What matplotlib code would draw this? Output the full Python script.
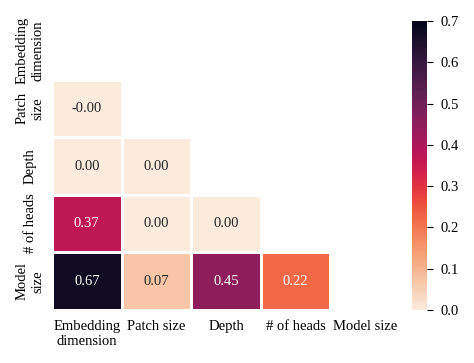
import numpy as np
import matplotlib
matplotlib.use('Agg')
import matplotlib.pyplot as plt
import seaborn as sns

plt.rcParams['font.family'] = ['Liberation Serif', 'DejaVu Serif']

row_labels = ['Embedding\ndimension', 'Patch\nsize', 'Depth', '# of heads', 'Model\nsize']
col_labels = ['Embedding\ndimension', 'Patch size', 'Depth', '# of heads', 'Model size']

# lower triangle values (upper part and diagonal are masked)
corr = np.array([
    [0.0,    0.0,  0.0,  0.0,  0.0],
    [-0.001, 0.0,  0.0,  0.0,  0.0],
    [0.0,    0.0,  0.0,  0.0,  0.0],
    [0.37,   0.0,  0.0,  0.0,  0.0],
    [0.67,   0.07, 0.45, 0.22, 0.0],
])
mask = np.triu(np.ones_like(corr, dtype=bool))

fig = plt.figure(figsize=(4.74, 3.63), dpi=100)
ax = fig.add_axes([52/474, 1 - 310/363, 348/474, 288/363])
cax = fig.add_axes([412/474, 1 - 310/363, 15/474, 289/363])

sns.heatmap(corr, mask=mask, cmap='rocket_r', vmin=0, vmax=0.7,
            annot=True, fmt='.2f', annot_kws={'size': 10.5},
            linewidths=1, linecolor='white',
            xticklabels=col_labels, yticklabels=row_labels,
            ax=ax, cbar_ax=cax)

ax.tick_params(length=0, labelsize=10.5, pad=7)
ax.set_yticklabels(row_labels, rotation=90, va='center', ha='center', ma='center')
ax.set_xticklabels(col_labels, rotation=0, ha='center', ma='center')
for t in ax.get_yticklabels():
    t.set_x(-0.035)

cax.tick_params(labelsize=10.5, length=4, width=0.8, pad=6)
cax.set_yticks([0.0, 0.1, 0.2, 0.3, 0.4, 0.5, 0.6, 0.7])

plt.savefig('out.png', dpi=100)
